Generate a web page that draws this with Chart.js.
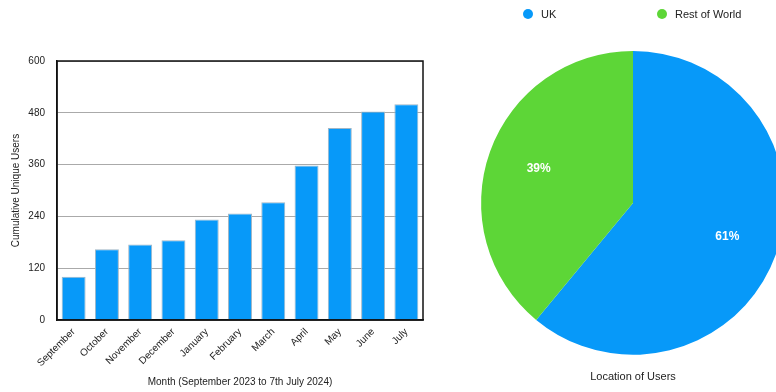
<!DOCTYPE html>
<html>
<head>
<meta charset="utf-8">
<script src="https://cdn.jsdelivr.net/npm/chart.js@4"></script>
<style>
  html, body { margin: 0; padding: 0; background: #fff; overflow: hidden; width: 776px; height: 392px; }
  #bars { position: absolute; left: 0; top: 0; }
  #pie { position: absolute; left: 440px; top: 0; }
</style>
</head>
<body>
<canvas id="bars" width="440" height="392"></canvas>
<canvas id="pie" width="386" height="392"></canvas>
<script>
const months = ['September', 'October', 'November', 'December', 'January', 'February', 'March', 'April', 'May', 'June', 'July'];
const users = [100, 164, 175, 185, 233, 247, 273, 358, 445, 483, 500];
const yTicks = [0, 120, 240, 360, 480, 600];

const locations = ['UK', 'Rest of World'];
const locationShare = [61, 39];
const locationColors = ['#0799F9', '#5DD637'];

const FONT = '"Liberation Sans", Arial, sans-serif';
Chart.defaults.font.family = FONT;
Chart.defaults.color = '#222';

bar_chart();
pie_chart();

function bar_chart() {
    const ctx = document.querySelector('#bars').getContext('2d');

    // frame round the plot area
    const frame = {
        id: 'frame',
        afterDatasetsDraw(chart) {
            const a = chart.chartArea;
            const c = chart.ctx;
            c.save();
            c.strokeStyle = '#111';
            c.lineWidth = 1.5;
            c.strokeRect(a.left, a.top, a.right - a.left, a.bottom - a.top);
            c.restore();
        }
    };

    new Chart(ctx, {
        type: 'bar',
        data: {
            labels: months,
            datasets: [{
                data: users,
                backgroundColor: '#0799F9',
                borderColor: '#9fb6c6',
                borderWidth: 1,
                categoryPercentage: 0.9,
                barPercentage: 0.8
            }]
        },
        options: {
            responsive: false,
            animation: false,
            layout: { padding: { top: 61, right: 17, left: 6, bottom: 0 } },
            plugins: { legend: { display: false }, tooltip: { enabled: false } },
            scales: {
                x: {
                    grid: { display: false, drawTicks: false },
                    border: { color: '#111', width: 1.5 },
                    ticks: { minRotation: 45, maxRotation: 45, padding: 6, font: { size: 10 }, color: '#222' },
                    title: { display: true, text: 'Month (September 2023 to 7th July 2024)', font: { size: 10 }, color: '#222', padding: { top: 4, bottom: 4 } },
                    afterFit(scale) { scale.height = 72; }
                },
                y: {
                    min: 0,
                    max: 600,
                    afterBuildTicks(scale) { scale.ticks = yTicks.map(v => ({ value: v })); },
                    grid: { color: '#aaaaaa', lineWidth: 1, drawTicks: false },
                    border: { color: '#111', width: 1.5 },
                    ticks: { padding: 12, font: { size: 10 }, color: '#222' },
                    title: { display: true, text: 'Cumulative Unique Users', font: { size: 10 }, color: '#222', padding: { top: 4, bottom: 4 } },
                    afterFit(scale) { scale.width = 51; }
                }
            }
        },
        plugins: [frame]
    });
}

function pie_chart() {
    const ctx = document.querySelector('#pie').getContext('2d');

    const extras = {
        id: 'extras',
        afterDraw(chart) {
            const c = chart.ctx;
            const meta = chart.getDatasetMeta(0);
            const total = locationShare.reduce((a, b) => a + b, 0);
            c.save();
            // percentage labels
            c.fillStyle = '#fff';
            c.font = 'bold 12px ' + FONT;
            c.textAlign = 'center';
            c.textBaseline = 'middle';
            meta.data.forEach((arc, i) => {
                const mid = (arc.startAngle + arc.endAngle) / 2;
                const d = arc.outerRadius * 0.66;
                c.fillText(Math.round(locationShare[i] / total * 100) + '%', arc.x + Math.cos(mid) * d, arc.y + Math.sin(mid) * d);
            });
            // legend along the top
            const cx = (chart.chartArea.left + chart.chartArea.right) / 2;
            const spots = [cx - 105, cx + 29];
            c.font = '11px ' + FONT;
            c.textAlign = 'left';
            locations.forEach((name, i) => {
                c.fillStyle = locationColors[i];
                c.beginPath();
                c.arc(spots[i], 14, 5, 0, Math.PI * 2);
                c.fill();
                c.fillStyle = '#222';
                c.fillText(name, spots[i] + 13, 14.5);
            });
            c.restore();
        }
    };

    new Chart(ctx, {
        type: 'pie',
        data: {
            labels: locations,
            datasets: [{
                data: locationShare,
                backgroundColor: locationColors,
                borderWidth: 0
            }]
        },
        options: {
            responsive: false,
            animation: false,
            layout: { padding: { top: 51, left: 41, right: 41, bottom: 8 } },
            plugins: {
                legend: { display: false },
                tooltip: { enabled: false },
                title: {
                    display: true,
                    position: 'bottom',
                    text: 'Location of Users',
                    color: '#222',
                    font: { size: 11, weight: 'normal' },
                    padding: { top: 16, bottom: 0 }
                }
            }
        },
        plugins: [extras]
    });
}
</script>
</body>
</html>
